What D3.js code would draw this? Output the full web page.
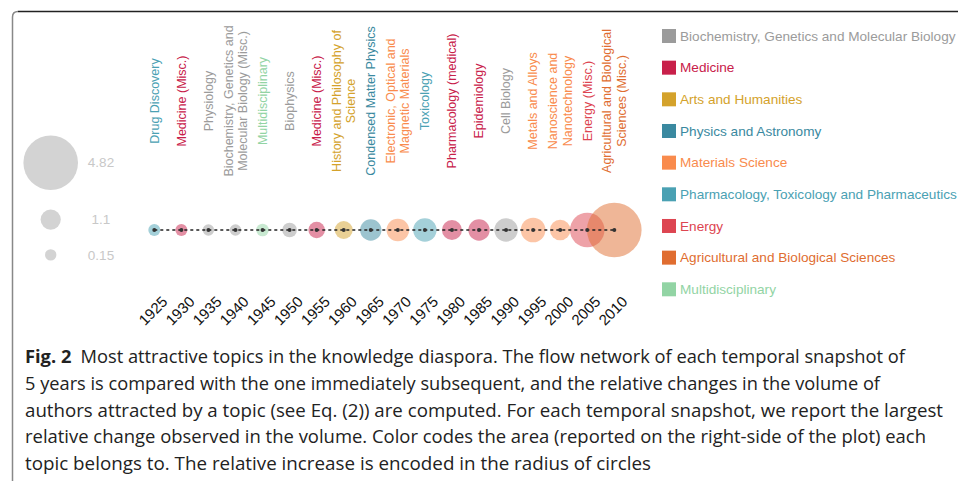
<!DOCTYPE html>
<html>
<head>
<meta charset="utf-8">
<script src="https://cdn.jsdelivr.net/npm/d3@7"></script>
<style>
  html, body { margin: 0; padding: 0; background: #fff; }
  svg { display: block; }
</style>
</head>
<body>
<div id="chart"></div>
<script>
// snapshot years
const years = [1925, 1930, 1935, 1940, 1945, 1950, 1955, 1960, 1965, 1970,
               1975, 1980, 1985, 1990, 1995, 2000, 2005, 2010];

// most attractive topic of each snapshot (lines of the label)
const topics = [
  ["Drug Discovery"],
  ["Medicine (Misc.)"],
  ["Physiology"],
  ["Biochemistry, Genetics and", "Molecular Biology (Misc.)"],
  ["Multidisciplinary"],
  ["Biophysics"],
  ["Medicine (Misc.)"],
  ["History and Philosophy of", "Science"],
  ["Condensed Matter Physics"],
  ["Electronic, Optical and", "Magnetic Materials"],
  ["Toxicology"],
  ["Pharmacology (medical)"],
  ["Epidemiology"],
  ["Cell Biology"],
  ["Metals and Alloys"],
  ["Nanoscience and", "Nanotechnology"],
  ["Energy (Misc.)"],
  ["Agricultural and Biological", "Sciences (Misc.)"]
];

// area each topic belongs to
const topicAreas = [
  "Pharmacology, Toxicology and Pharmaceutics", "Medicine",
  "Biochemistry, Genetics and Molecular Biology", "Biochemistry, Genetics and Molecular Biology",
  "Multidisciplinary", "Biochemistry, Genetics and Molecular Biology", "Medicine",
  "Arts and Humanities", "Physics and Astronomy", "Materials Science",
  "Pharmacology, Toxicology and Pharmaceutics", "Medicine", "Medicine",
  "Biochemistry, Genetics and Molecular Biology", "Materials Science", "Materials Science",
  "Energy", "Agricultural and Biological Sciences"
];

// largest relative change of each snapshot
const changes = [0.21, 0.21, 0.15, 0.15, 0.28, 0.50, 0.71, 0.86, 1.23, 1.36,
                 1.45, 1.08, 1.23, 1.45, 1.58, 1.14, 2.66, 4.82];

const areaNames = [
  "Biochemistry, Genetics and Molecular Biology", "Medicine", "Arts and Humanities",
  "Physics and Astronomy", "Materials Science", "Pharmacology, Toxicology and Pharmaceutics",
  "Energy", "Agricultural and Biological Sciences", "Multidisciplinary"
];
const areaColors = ["#9b9b9b", "#c8204a", "#d4a22b", "#3a89a0", "#f98b4d",
                    "#4aa1b3", "#dd4551", "#e06d30", "#92d4a4"];

const sizeTicks = [4.82, 1.1, 0.15];

const caption = [
  "Most attractive topics in the knowledge diaspora. The flow network of each temporal snapshot of",
  "5 years is compared with the one immediately subsequent, and the relative changes in the volume of",
  "authors attracted by a topic (see Eq. (2)) are computed. For each temporal snapshot, we report the largest",
  "relative change observed in the volume. Color codes the area (reported on the right-side of the plot) each",
  "topic belongs to. The relative increase is encoded in the radius of circles"
];
const captionWidths = [880, 855, 918, 901, 626];

const W = 958, H = 481;
const svg = d3.select("#chart").append("svg")
  .attr("width", W).attr("height", H);

const font = "Liberation Sans, Arial, Helvetica, sans-serif";

// frame
svg.append("path")
  .attr("d", "M12.5,481 V17 Q12.5,11.5 18,11.5")
  .attr("fill", "none").attr("stroke", "#888").attr("stroke-width", 1.5);
svg.append("path")
  .attr("d", "M18,11.5 H958")
  .attr("fill", "none").attr("stroke", "#222").attr("stroke-width", 1.3);

// scales
const x = d3.scalePoint().domain(years).range([154.3, 614.3]);
const r = d3.scaleLinear().domain([0.15, 4.82]).range([5.7, 27.3]);
const color = d3.scaleOrdinal().domain(areaNames).range(areaColors);
const cy = 230;

const data = years.map((y, i) => ({year: y, topic: topics[i], area: topicAreas[i], value: changes[i]}));

// circles
svg.append("g").selectAll("circle")
  .data(data).join("circle")
  .attr("cx", d => x(d.year))
  .attr("cy", cy)
  .attr("r", d => r(d.value))
  .attr("fill", d => color(d.area))
  .attr("fill-opacity", 0.5);

// dashed line through centers
svg.append("path")
  .datum(data)
  .attr("fill", "none")
  .attr("stroke", "#222")
  .attr("stroke-width", 1.4)
  .attr("stroke-dasharray", "3,3")
  .attr("d", d3.line().x(d => x(d.year)).y(cy));

svg.append("g").selectAll("circle")
  .data(data).join("circle")
  .attr("cx", d => x(d.year))
  .attr("cy", cy)
  .attr("r", 2)
  .attr("fill", "#333");

// topic labels
const labels = svg.append("g").selectAll("text")
  .data(data).join("text")
  .attr("transform", d => `translate(${x(d.year)},101) rotate(-90)`)
  .attr("text-anchor", "middle")
  .attr("font-family", font)
  .attr("font-size", 12.5)
  .attr("fill", d => color(d.area));
labels.selectAll("tspan")
  .data(d => d.topic.map((t, i) => ({t, i, n: d.topic.length})))
  .join("tspan")
  .attr("x", 0)
  .attr("y", d => (d.i - (d.n - 1) / 2) * 14.5)
  .attr("dy", "0.35em")
  .text(d => d.t);

// year axis
const xAxis = svg.append("g")
  .call(d3.axisBottom(x).tickSize(0));
xAxis.select(".domain").remove();
xAxis.selectAll("text")
  .attr("x", 0).attr("y", 0).attr("dy", "0.35em")
  .attr("transform", "translate(10,299) rotate(-45)")
  .attr("text-anchor", "end")
  .attr("font-family", font)
  .attr("font-size", 15)
  .attr("fill", "#111");

// size legend
let ly = 135.4;
const sizeRows = sizeTicks.map((v, i) => {
  if (i > 0) ly += r(sizeTicks[i - 1]) + r(v) + 19.5;
  else ly += r(v);
  return {v, y: ly};
});
const sizeG = svg.append("g");
sizeG.selectAll("circle").data(sizeRows).join("circle")
  .attr("cx", 50.7).attr("cy", d => d.y).attr("r", d => r(d.v))
  .attr("fill", "#d3d3d3");
sizeG.selectAll("text").data(sizeRows).join("text")
  .attr("x", 101).attr("y", d => d.y).attr("dy", "0.35em")
  .attr("text-anchor", "middle")
  .attr("font-family", font).attr("font-size", 13.5)
  .attr("fill", "#c8c8c8")
  .text(d => d.v);

// area legend
const ry = d3.scalePoint().domain(areaNames).range([36, 289.3]);
const leg = svg.append("g").selectAll("g")
  .data(areaNames).join("g")
  .attr("transform", d => `translate(662,${ry(d)})`);
leg.append("rect")
  .attr("x", 0).attr("y", -7).attr("width", 14).attr("height", 14)
  .attr("fill", d => color(d));
leg.append("text")
  .attr("x", 18).attr("dy", "0.35em")
  .attr("font-family", font).attr("font-size", 13.6)
  .attr("fill", d => color(d))
  .text(d => d);

// caption
const capFont = "Liberation Sans Narrow, Open Sans, Noto Sans, sans-serif";
caption.forEach((line, i) => {
  const t = svg.append("text")
    .attr("x", 25).attr("y", 363 + i * 26.8)
    .attr("font-family", capFont).attr("font-size", 17.5)
    .attr("fill", "#222")
    .attr("textLength", captionWidths[i])
    .attr("lengthAdjust", "spacingAndGlyphs");
  if (i === 0) {
    t.append("tspan").attr("font-weight", "bold").text("Fig. 2");
    t.append("tspan").text("\u2002" + line);
  } else {
    t.text(line);
  }
});
</script>
</body>
</html>
